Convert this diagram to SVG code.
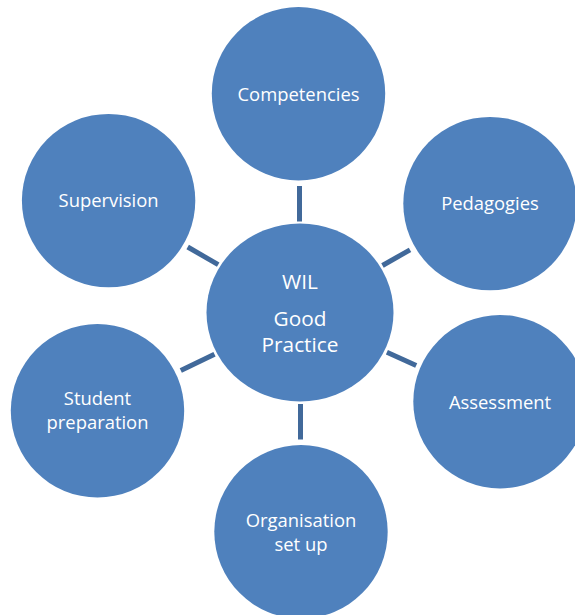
<svg xmlns="http://www.w3.org/2000/svg" width="575" height="615" viewBox="0 0 575 615">
<style>
.node{fill:#4F81BD;}
.lbl{fill:#FFFFFF;font-family:"Open Sans","Noto Sans",sans-serif;font-size:18.4px;text-anchor:middle;}
.big{font-size:20.8px;}
.conn line{stroke:#41699A;stroke-width:5;}
</style>
<rect width="575" height="615" fill="#FFFFFF"/>
<g id="connectors" class="conn">
<line x1="299.5" y1="186" x2="299.5" y2="221.5"/>
<line x1="300.5" y1="404" x2="300.5" y2="439.5"/>
<line x1="187.7" y1="247" x2="218.2" y2="264.7"/>
<line x1="382.5" y1="265.5" x2="410" y2="249.8"/>
<line x1="180.8" y1="370.6" x2="214.5" y2="354.2"/>
<line x1="386.9" y1="352.2" x2="416.2" y2="365.5"/>
</g>
<g id="center">
<ellipse class="node" cx="300" cy="312.5" rx="93.5" ry="89"/>
<text class="lbl big" x="300" y="288.5">WIL</text>
<text class="lbl big" x="300" y="326">Good</text>
<text class="lbl big" x="300" y="351.5">Practice</text>
</g>
<g id="competencies">
<circle class="node" cx="298.5" cy="93.7" r="86.7"/>
<text class="lbl" x="298.5" y="100.5">Competencies</text>
</g>
<g id="pedagogies">
<circle class="node" cx="490" cy="203.6" r="86.7"/>
<text class="lbl" x="490" y="210">Pedagogies</text>
</g>
<g id="assessment">
<circle class="node" cx="500" cy="401.7" r="86.7"/>
<text class="lbl" x="500" y="408.5">Assessment</text>
</g>
<g id="organisation">
<circle class="node" cx="301" cy="531.8" r="86.7"/>
<text class="lbl" x="301" y="526.5">Organisation</text>
<text class="lbl" x="301" y="550.5">set up</text>
</g>
<g id="student">
<circle class="node" cx="97.5" cy="410.8" r="86.7"/>
<text class="lbl" x="97.5" y="404.5">Student</text>
<text class="lbl" x="97.5" y="428.5">preparation</text>
</g>
<g id="supervision">
<circle class="node" cx="108.6" cy="200.6" r="86.7"/>
<text class="lbl" x="108.6" y="207">Supervision</text>
</g>
</svg>
